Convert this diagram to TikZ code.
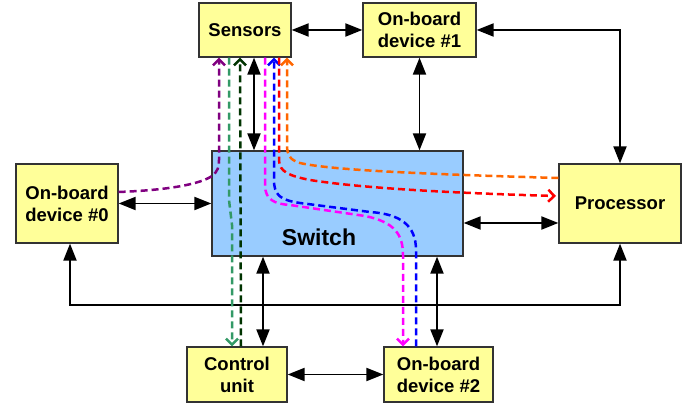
\documentclass[tikz,border=0pt]{standalone}
\usepackage{fontspec}
\setmainfont{Liberation Sans}
\usetikzlibrary{arrows.meta}
\definecolor{boxyellow}{HTML}{FFFF99}
\definecolor{switchblue}{HTML}{99CCFF}
\definecolor{boxline}{HTML}{333333}
\definecolor{pathpurple}{HTML}{800080}
\definecolor{pathteal}{HTML}{339966}
\definecolor{pathdkgreen}{HTML}{003300}
\definecolor{pathmagenta}{HTML}{FF00FF}
\definecolor{pathblue}{HTML}{0000FF}
\definecolor{pathred}{HTML}{FF0000}
\definecolor{pathorange}{HTML}{FF6600}
\tikzset{
  box/.style={draw=boxline, line width=1.3pt, fill=boxyellow, align=center,
    inner sep=0pt, font=\bfseries\fontsize{18.5}{22}\selectfont},
  swbox/.style={draw=boxline, line width=1.3pt, fill=switchblue, inner sep=0pt},
  link/.style={line width=1.9pt, {Triangle[length=17pt,width=13pt]}-{Triangle[length=17pt,width=13pt]}},
  flow/.style={line width=2.5pt, dash pattern=on 7pt off 4pt},
  flowtip/.style={-{Straight Barb[length=6pt,width=12pt]}}
}
\begin{document}
\begin{tikzpicture}[x=1pt,y=-1pt]
\useasboundingbox (0,0) rectangle (697,403);

% units
\node[box, minimum width=92pt,  minimum height=54pt] (sens) at (245,30)    {Sensors};
\node[box, minimum width=113pt, minimum height=54pt] (dev1) at (419.5,30)  {On-board\\device \#1};
\node[swbox, minimum width=251pt, minimum height=105pt] (sw) at (337.5,203.5) {};
\node[box, minimum width=102pt, minimum height=79pt] (dev0) at (67,203.5)  {On-board\\device \#0};
\node[box, minimum width=122pt, minimum height=79pt] (proc) at (620,203.5) {Processor};
\node[box, minimum width=100pt, minimum height=55pt] (ctrl) at (237,374.5) {Control\\unit};
\node[box, minimum width=109pt, minimum height=55pt] (dev2) at (438.5,374.5) {On-board\\device \#2};

% physical links
\draw[link] (sens.east) -- (dev1.west);
\draw[link] (dev1.east) -| (proc.north);
\draw[link] (254,0 |- sens.south) -- (254,0 |- sw.north);
\draw[link] (dev1.south) -- (dev1.south |- sw.north);
\draw[link] (dev0.east) -- (dev0.east -| sw.west);
\draw[link] (proc.west |- 0,223) -- (sw.east |- 0,223);
\draw[link] (70,0 |- dev0.south) -- (70,305) -- (620,305) -- (proc.south);
\draw[link] (263,0 |- sw.south) -- (263,0 |- ctrl.north);
\draw[link] (437,0 |- sw.south) -- (437,0 |- dev2.north);
\draw[link] (ctrl.east) -- (dev2.west);

% data flows through the switch
\draw[flow, flowtip, pathpurple] (dev0.east |- 0,192)
  .. controls (170,190) and (200,184) .. (212,176)
  .. controls (218,171) and (219,167) .. (219,160) -- (219,0 |- sens.south);
\draw[flow, flowtip, pathteal] (229,0 |- sens.south) -- (229,200) -- (232,225) -- (232,0 |- ctrl.north);
\draw[flow, flowtip, pathdkgreen] (241,0 |- ctrl.north) -- (240,0 |- sens.south);
\draw[flow, flowtip, pathmagenta] (265,0 |- sens.south) -- (265,185)
  .. controls (265,200) and (275,204) .. (290,205) -- (365,216)
  .. controls (395,222) and (403,235) .. (403,255) -- (403,0 |- dev2.north);
\draw[flow, flowtip, pathblue] (416,0 |- dev2.north) -- (416,250)
  .. controls (416,225) and (400,214) .. (370,212) -- (300,203)
  .. controls (280,200) and (274,195) .. (274,180) -- (274,0 |- sens.south);
\draw[flow, flowtip, pathred] (279,0 |- sens.south) -- (279,160)
  .. controls (279,172) and (290,176) .. (310,180)
  .. controls (360,188) and (450,193) .. (556,196);
\draw[flow, flowtip, pathorange] (proc.west |- 0,178)
  .. controls (420,174) and (330,170) .. (300,163)
  .. controls (290,160) and (287,155) .. (287,145) -- (287,0 |- sens.south);

\node[font=\bfseries\fontsize{23}{27}\selectfont] (swlabel) at (319,237) {Switch};
\end{tikzpicture}
\end{document}
